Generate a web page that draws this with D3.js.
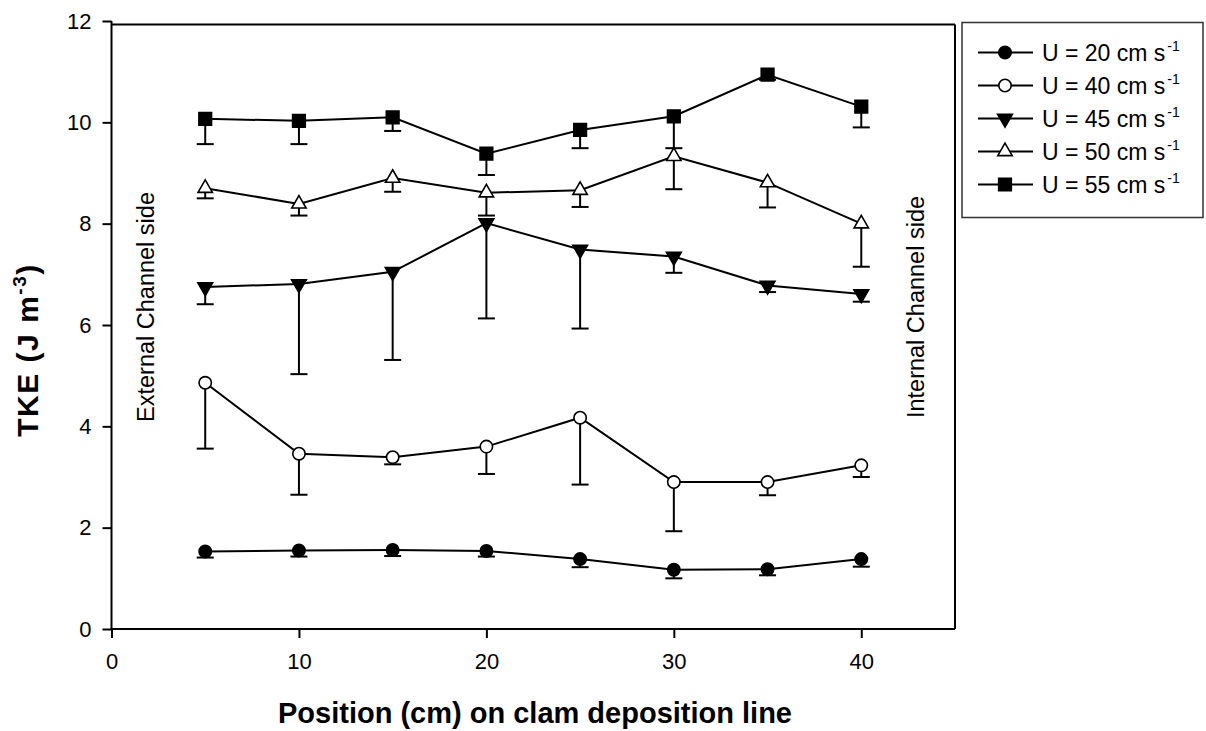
<!DOCTYPE html>
<html>
<head>
<meta charset="utf-8">
<script src="https://cdn.jsdelivr.net/npm/d3@7/dist/d3.min.js"></script>
<style>
  html, body { margin: 0; padding: 0; background: #fff; }
  svg { display: block; }
  text { font-family: "Liberation Sans", Arial, sans-serif; fill: #000; }
</style>
</head>
<body>
<svg id="chart" width="1206" height="731"></svg>
<script>
// Positions along the clam deposition line (cm)
const positions = [5, 10, 15, 20, 25, 30, 35, 40];

// Mean TKE (J m^-3) per free-stream velocity
const tke20 = [1.53, 1.55, 1.56, 1.54, 1.38, 1.17, 1.18, 1.38];
const tke40 = [4.86, 3.46, 3.39, 3.60, 4.17, 2.90, 2.90, 3.23];
const tke45 = [6.75, 6.81, 7.05, 8.01, 7.49, 7.35, 6.78, 6.61];
const tke50 = [8.70, 8.39, 8.90, 8.61, 8.66, 9.33, 8.81, 8.00];
const tke55 = [10.07, 10.03, 10.10, 9.38, 9.85, 10.12, 10.94, 10.31];

// Standard deviations (drawn as lower error bars)
const sd20 = [0.12, 0.12, 0.12, 0.11, 0.16, 0.17, 0.12, 0.15];
const sd40 = [1.30, 0.81, 0.14, 0.54, 1.32, 0.97, 0.26, 0.23];
const sd45 = [0.34, 1.78, 1.74, 1.88, 1.56, 0.32, 0.13, 0.15];
const sd50 = [0.20, 0.23, 0.27, 0.45, 0.33, 0.65, 0.49, 0.85];
const sd55 = [0.50, 0.46, 0.27, 0.42, 0.36, 0.63, 0.10, 0.41];

const velocities = [20, 40, 45, 50, 55];
const xTicks = [0, 10, 20, 30, 40];
const yTicks = [0, 2, 4, 6, 8, 10, 12];

const series = [
  { u: velocities[0], values: tke20, sd: sd20, symbol: d3.symbolCircle,   size: 120, fill: "#000", rotate: 0 },
  { u: velocities[1], values: tke40, sd: sd40, symbol: d3.symbolCircle,   size: 120, fill: "#fff", rotate: 0 },
  { u: velocities[2], values: tke45, sd: sd45, symbol: d3.symbolTriangle, size: 95,  fill: "#000", rotate: 180 },
  { u: velocities[3], values: tke50, sd: sd50, symbol: d3.symbolTriangle, size: 90,  fill: "#fff", rotate: 0 },
  { u: velocities[4], values: tke55, sd: sd55, symbol: d3.symbolSquare,   size: 160, fill: "#000", rotate: 0 }
];

const svg = d3.select("#chart");

const x = d3.scaleLinear().domain([0, 45]).range([111.5, 955]);
const y = d3.scaleLinear().domain([0, 12]).range([629, 21]);

// Frame (top and right)
svg.append("line").attr("x1", x(0)).attr("x2", x(45)).attr("y1", 24.5).attr("y2", 24.5)
  .attr("stroke", "#000").attr("stroke-width", 2);
svg.append("line").attr("x1", x(45)).attr("x2", x(45)).attr("y1", 24.5).attr("y2", y(0))
  .attr("stroke", "#000").attr("stroke-width", 2);

// Axes
const yAxis = svg.append("g").attr("transform", `translate(${x(0)},0)`)
  .call(d3.axisLeft(y).tickValues(yTicks).tickSize(9).tickSizeOuter(0).tickPadding(11).tickFormat(d3.format("d")));
const xAxis = svg.append("g").attr("transform", `translate(0,${y(0)})`)
  .call(d3.axisBottom(x).tickValues(xTicks).tickSize(9).tickSizeOuter(0).tickPadding(15).tickFormat(d3.format("d")));

[yAxis, xAxis].forEach(g => {
  g.select(".domain").remove();
  g.selectAll(".tick line").attr("stroke", "#000").attr("stroke-width", 2);
  g.selectAll(".tick text").attr("font-size", 22).attr("font-family", "Liberation Sans, Arial, sans-serif").attr("fill", "#000");
});
svg.append("line").attr("x1", x(0)).attr("x2", x(0)).attr("y1", y(0) + 1).attr("y2", y(12))
  .attr("stroke", "#000").attr("stroke-width", 2);
svg.append("line").attr("x1", x(0) - 1).attr("x2", x(45)).attr("y1", y(0)).attr("y2", y(0))
  .attr("stroke", "#000").attr("stroke-width", 2);

// Axis titles
const yt = svg.append("text")
  .attr("transform", `translate(38,350) rotate(-90)`)
  .attr("text-anchor", "middle")
  .attr("font-size", 30).attr("font-weight", "bold")
  .attr("letter-spacing", 1.5);
yt.append("tspan").text("TKE (J m");
yt.append("tspan").attr("font-size", 19).attr("dy", -12).text("-3");
yt.append("tspan").attr("dy", 12).text(")");

svg.append("text")
  .attr("x", 535).attr("y", 723)
  .attr("text-anchor", "middle")
  .attr("font-size", 29).attr("font-weight", "bold")
  .text("Position (cm) on clam deposition line");

// Side annotations
svg.append("text")
  .attr("transform", `translate(154,307) rotate(-90)`)
  .attr("text-anchor", "middle").attr("font-size", 23.5)
  .text("External Channel side");
svg.append("text")
  .attr("transform", `translate(924,307) rotate(-90)`)
  .attr("text-anchor", "middle").attr("font-size", 23.5)
  .text("Internal Channel side");

// Series: lines, error bars, markers
const line = d3.line().x((d, i) => x(positions[i])).y(d => y(d));
const capHalf = 8.5;

series.forEach(s => {
  const g = svg.append("g");
  g.append("path").datum(s.values).attr("d", line)
    .attr("fill", "none").attr("stroke", "#000").attr("stroke-width", 2);

  const eb = g.selectAll(".eb").data(s.values).enter().append("g");
  eb.append("line")
    .attr("x1", (d, i) => x(positions[i])).attr("x2", (d, i) => x(positions[i]))
    .attr("y1", d => y(d)).attr("y2", (d, i) => y(d - s.sd[i]))
    .attr("stroke", "#000").attr("stroke-width", 2);
  eb.append("line")
    .attr("x1", (d, i) => x(positions[i]) - capHalf).attr("x2", (d, i) => x(positions[i]) + capHalf)
    .attr("y1", (d, i) => y(d - s.sd[i])).attr("y2", (d, i) => y(d - s.sd[i]))
    .attr("stroke", "#000").attr("stroke-width", 2);

  g.selectAll(".mk").data(s.values).enter().append("path")
    .attr("d", d3.symbol().type(s.symbol).size(s.size))
    .attr("transform", (d, i) => `translate(${x(positions[i])},${y(d)}) rotate(${s.rotate})`)
    .attr("fill", s.fill).attr("stroke", "#000").attr("stroke-width", 1.6);
});

// Legend
const lg = svg.append("g");
lg.append("rect").attr("x", 962).attr("y", 22.5).attr("width", 241).attr("height", 195)
  .attr("fill", "#fff").attr("stroke", "#333").attr("stroke-width", 1.5);

series.forEach((s, i) => {
  const cy = 52.5 + i * 33;
  lg.append("line").attr("x1", 978).attr("x2", 1033).attr("y1", cy).attr("y2", cy)
    .attr("stroke", "#000").attr("stroke-width", 2);
  lg.append("path")
    .attr("d", d3.symbol().type(s.symbol).size(s.size))
    .attr("transform", `translate(1005,${cy}) rotate(${s.rotate})`)
    .attr("fill", s.fill).attr("stroke", "#000").attr("stroke-width", 1.6);
  const t = lg.append("text").attr("x", 1042).attr("y", cy + 8).attr("font-size", 23);
  t.append("tspan").text(`U = ${s.u} cm s`);
  t.append("tspan").attr("font-size", 14).attr("dx", 2).attr("dy", -10).text("-1");
});
</script>
</body>
</html>
